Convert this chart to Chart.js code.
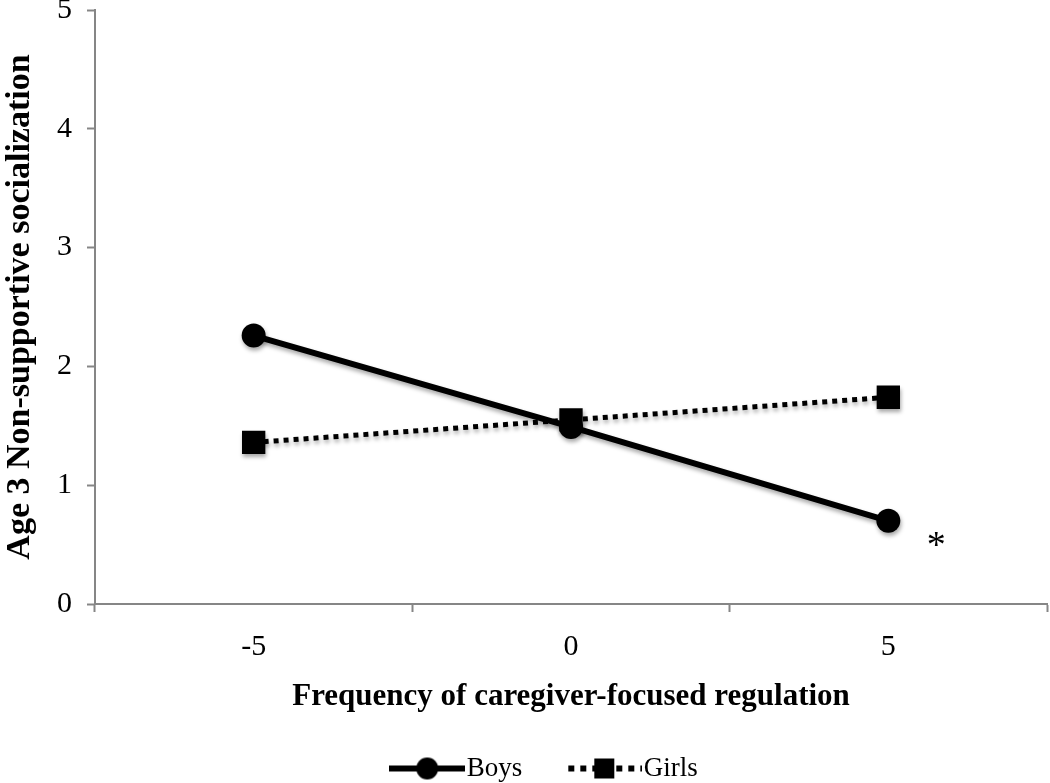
<!DOCTYPE html>
<html>
<head>
<meta charset="utf-8">
<script src="https://cdn.jsdelivr.net/npm/chart.js@4.4.1/dist/chart.umd.min.js"></script>
<style>
  html, body { margin: 0; padding: 0; background: #fff; }
  #wrap { width: 1050px; height: 783px; }
</style>
</head>
<body>
<div id="wrap"><canvas id="chart" width="1050" height="783"></canvas></div>
<script>
// values
const categories = ['-5', '0', '5'];
const boysValues = [2.26, 1.49, 0.70];
const girlsValues = [1.36, 1.55, 1.74];
const yTicks = [0, 1, 2, 3, 4, 5];

const SERIF = '"Liberation Serif", "Times New Roman", serif';
const AXIS_GREY = '#868686';

// legend swatches: line + marker, like the Excel legend
function makeSwatch(dashed) {
    const c = document.createElement('canvas');
    c.width = 76;
    c.height = 26;
    const g = c.getContext('2d');
    g.fillStyle = '#000';
    g.strokeStyle = '#000';
    g.lineWidth = 6;
    if (dashed) {
        g.setLineDash([6, 6]);
        g.beginPath();
        g.moveTo(2, 13);
        g.lineTo(76, 13);
        g.stroke();
        g.fillRect(28, 3, 20, 20);
    } else {
        g.beginPath();
        g.moveTo(0, 13);
        g.lineTo(76, 13);
        g.stroke();
        g.beginPath();
        g.arc(38, 13, 11, 0, Math.PI * 2);
        g.fill();
    }
    return c;
}

const shadowPlugin = {
    id: 'markerShadow',
    beforeDatasetsDraw(chart) {
        const ctx = chart.ctx;
        ctx.save();
        ctx.shadowColor = 'rgba(0,0,0,0.35)';
        ctx.shadowBlur = 4;
        ctx.shadowOffsetX = 1;
        ctx.shadowOffsetY = 3;
    },
    afterDatasetsDraw(chart) {
        chart.ctx.restore();
    }
};

// the original legend sits a bit right of centre
const legendShift = {
    id: 'legendShift',
    afterLayout(chart) {
        chart.legend.left += 26;
        chart.legend.right += 26;
    }
};

// significance mark next to the last boys point
const starPlugin = {
    id: 'star',
    afterDraw(chart) {
        const x = chart.scales.x.getPixelForValue(2) + 48;
        const y = chart.scales.y.getPixelForValue(boysValues[2]) + 26;
        const ctx = chart.ctx;
        ctx.save();
        ctx.fillStyle = '#000';
        ctx.font = '38px ' + SERIF;
        ctx.textAlign = 'center';
        ctx.textBaseline = 'middle';
        ctx.fillText('*', x, y);
        ctx.restore();
    }
};

const swatches = [makeSwatch(false), makeSwatch(true)];
// trailing spaces widen the gap between the two legend entries
const legendText = ['Boys        ', 'Girls'];

new Chart(document.getElementById('chart'), {
    type: 'line',
    data: {
        labels: categories,
        datasets: [
            {
                label: 'Boys',
                data: boysValues,
                borderColor: '#000',
                backgroundColor: '#000',
                borderWidth: 6,
                pointStyle: 'circle',
                pointRadius: 12,
                pointBackgroundColor: '#000',
                pointBorderWidth: 0,
                tension: 0
            },
            {
                label: 'Girls',
                data: girlsValues,
                borderColor: '#000',
                backgroundColor: '#000',
                borderWidth: 5,
                borderDash: [5, 5],
                pointStyle: 'rect',
                pointRadius: 16.5,
                pointBackgroundColor: '#000',
                pointBorderWidth: 0,
                tension: 0
            }
        ]
    },
    options: {
        responsive: false,
        animation: false,
        layout: { autoPadding: false, padding: { left: 0, right: 3, top: 10, bottom: -9 } },
        plugins: {
            tooltip: { enabled: false },
            legend: {
                position: 'bottom',
                labels: {
                    usePointStyle: true,
                    pointStyleWidth: 52,
                    padding: 2,
                    color: '#000',
                    font: { family: SERIF, size: 27, lineHeight: 0.6 },
                    generateLabels(chart) {
                        return chart.data.datasets.map((ds, i) => ({
                            text: legendText[i],
                            pointStyle: swatches[i],
                            fillStyle: '#000',
                            strokeStyle: '#000',
                            lineWidth: 0,
                            fontColor: '#000',
                            datasetIndex: i,
                            hidden: false
                        }));
                    }
                }
            }
        },
        scales: {
            x: {
                type: 'category',
                offset: true,
                border: { color: AXIS_GREY, width: 2 },
                grid: {
                    offset: true,
                    drawOnChartArea: false,
                    drawTicks: true,
                    tickLength: 8,
                    tickWidth: 2,
                    color: AXIS_GREY
                },
                ticks: {
                    color: '#000',
                    padding: 17,
                    font: { family: SERIF, size: 30 }
                },
                title: {
                    display: true,
                    text: 'Frequency of caregiver-focused regulation',
                    color: '#000',
                    font: { family: SERIF, size: 31, weight: 'bold' },
                    padding: { top: 0, bottom: 37 }
                },
                afterFit(scale) {
                    scale.height = 149;
                    scale.paddingLeft = 0;
                    scale.paddingRight = 0;
                }
            },
            y: {
                min: 0,
                max: 5,
                afterBuildTicks(scale) {
                    scale.ticks = yTicks.map(v => ({ value: v }));
                },
                border: { color: AXIS_GREY, width: 2 },
                grid: {
                    drawOnChartArea: false,
                    drawTicks: true,
                    tickLength: 8,
                    tickWidth: 2,
                    color: AXIS_GREY
                },
                ticks: {
                    color: '#000',
                    padding: 15,
                    font: { family: SERIF, size: 30, lineHeight: 0.6 }
                },
                title: {
                    display: true,
                    text: 'Age 3 Non-supportive socialization',
                    color: '#000',
                    font: { family: SERIF, size: 34, weight: 'bold' },
                    padding: { top: 0, bottom: 0 }
                },
                afterFit(scale) {
                    scale.width = 95;
                    scale.paddingTop = 0;
                    scale.paddingBottom = 0;
                }
            }
        }
    },
    plugins: [shadowPlugin, legendShift, starPlugin]
});
</script>
</body>
</html>
